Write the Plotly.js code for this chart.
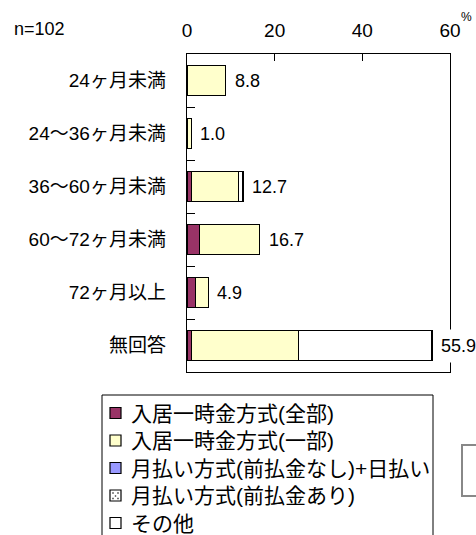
<!DOCTYPE html>
<html>
<head>
<meta charset="utf-8">
<script src="https://cdn.plot.ly/plotly-3.0.1.min.js"></script>
<style>
  body { margin: 0; background: #fff; }
  #plot { width: 476px; height: 535px; }
</style>
</head>
<body>
<div id="plot"></div>
<script>
document.addEventListener('DOMContentLoaded', function() {
    // n=102, values in %
    const categories = ['24ヶ月未満', '24～36ヶ月未満', '36～60ヶ月未満', '60～72ヶ月未満', '72ヶ月以上', '無回答'];
    const lumpAll = [0, 0, 1.0, 2.9, 2.0, 1.0];
    const lumpPart = [8.8, 1.0, 10.8, 13.7, 2.9, 24.5];
    const monthlyNoAdvance = [0, 0, 0, 0, 0, 0];
    const monthlyAdvance = [0, 0, 0, 0, 0, 0];
    const other = [0, 0, 1.0, 0, 0, 30.4];
    const totals = [8.8, 1.0, 12.7, 16.7, 4.9, 55.9];
    const seriesNames = ['入居一時金方式(全部)', '入居一時金方式(一部)', '月払い方式(前払金なし)+日払い', '月払い方式(前払金あり)', 'その他'];
    const seriesColors = ['#993366', '#FFFFCC', '#9999FF', '#FFFFFF', '#FFFFFF'];
    const xTicks = [0, 20, 40, 60];

    const FONT = "'Liberation Sans', 'Noto Sans CJK JP', sans-serif";
    const outline = { color: '#000', width: 1.3 };
    const dotPattern = { shape: '.', fgcolor: '#333', bgcolor: '#fff', size: 5, solidity: 0.25 };

    // plot area in pixels: x 187..450, y 54..372
    const L = 187, R = 450, T = 54, B = 372;
    const px2x = p => (p - L) / (R - L);
    const px2y = p => (B - p) / (B - T);

    function barTrace(values, i) {
        const marker = { color: seriesColors[i], line: outline };
        if (i === 3) marker.pattern = dotPattern;
        return {
            type: 'bar',
            orientation: 'h',
            x: values,
            y: categories,
            name: seriesNames[i],
            marker: marker,
            hoverinfo: 'x+name'
        };
    }

    const traces = [lumpAll, lumpPart, monthlyNoAdvance, monthlyAdvance, other].map(barTrace);

    // total labels at the end of each bar
    const totalLabels = categories.map((c, i) => ({
        x: totals[i],
        y: c,
        xref: 'x',
        yref: 'y',
        text: totals[i].toFixed(1),
        showarrow: false,
        xanchor: 'left',
        xshift: 2,
        bgcolor: '#fff',
        borderpad: 6,
        font: { size: 18, color: '#000' }
    }));

    // hand-drawn legend (box runs off the bottom edge like the source)
    const legendShapes = [{
        type: 'rect', xref: 'paper', yref: 'paper',
        x0: px2x(102), x1: px2x(433), y0: px2y(560), y1: px2y(395),
        line: { color: '#000', width: 1 },
        fillcolor: 'rgba(0,0,0,0)'
    }];
    const legendTexts = [];
    seriesNames.forEach((name, i) => {
        const cy = 413 + 27.5 * i;
        legendShapes.push({
            type: 'rect', xref: 'paper', yref: 'paper',
            x0: px2x(110), x1: px2x(121), y0: px2y(cy + 5.5), y1: px2y(cy - 5.5),
            line: { color: '#000', width: 1.2 },
            fillcolor: seriesColors[i]
        });
        if (i === 3) {
            [[113, cy - 2.5], [118, cy - 2.5], [115.5, cy + 0.5], [113, cy + 3], [118, cy + 3]].forEach(d => {
                legendShapes.push({
                    type: 'rect', xref: 'paper', yref: 'paper',
                    x0: px2x(d[0] - 0.7), x1: px2x(d[0] + 0.7), y0: px2y(d[1] + 0.7), y1: px2y(d[1] - 0.7),
                    line: { width: 0 }, fillcolor: '#333'
                });
            });
        }
        legendTexts.push({
            xref: 'paper', yref: 'paper',
            x: px2x(129), y: px2y(cy),
            xanchor: 'left', yanchor: 'middle',
            text: name, showarrow: false,
            font: { size: 21 }
        });
    });

    const layout = {
        width: 476,
        height: 535,
        margin: { l: L, r: 476 - R, t: T, b: 535 - B },
        paper_bgcolor: '#fff',
        plot_bgcolor: '#fff',
        font: { family: FONT, color: '#000', size: 19 },
        barmode: 'stack',
        bargap: 0.43,
        showlegend: false,
        xaxis: {
            side: 'top',
            range: [0, 60],
            tickvals: xTicks,
            ticks: 'inside',
            ticklen: 7,
            tickcolor: '#000',
            showline: true,
            mirror: true,
            linecolor: '#000',
            linewidth: 1.3,
            showgrid: false,
            zeroline: false,
            ticklabelstandoff: 8,
            tickfont: { size: 19 }
        },
        yaxis: {
            type: 'category',
            autorange: 'reversed',
            ticks: 'inside',
            tickson: 'boundaries',
            ticklen: 8,
            tickcolor: '#000',
            showline: true,
            mirror: true,
            linecolor: '#000',
            linewidth: 1.3,
            showgrid: false,
            zeroline: false,
            ticklabelstandoff: 16,
            tickfont: { size: 19 }
        },
        annotations: totalLabels.concat(legendTexts, [
            {
                xref: 'paper', yref: 'paper',
                x: px2x(12), y: px2y(29),
                xanchor: 'left', yanchor: 'middle',
                text: 'n=102', showarrow: false,
                font: { size: 18 }
            },
            {
                xref: 'paper', yref: 'paper',
                x: px2x(466), y: px2y(17),
                xanchor: 'center', yanchor: 'middle',
                text: '%', showarrow: false,
                font: { size: 12 }
            }
        ]),
        shapes: legendShapes.concat([
            // cut-off grey box at the bottom right
            {
                type: 'rect', xref: 'paper', yref: 'paper',
                x0: px2x(462), x1: px2x(482), y0: px2y(496), y1: px2y(445),
                line: { color: '#888', width: 2 },
                fillcolor: 'rgba(0,0,0,0)'
            }
        ])
    };

    Plotly.newPlot('plot', traces, layout, { displayModeBar: false, staticPlot: true });
});
</script>
</body>
</html>
